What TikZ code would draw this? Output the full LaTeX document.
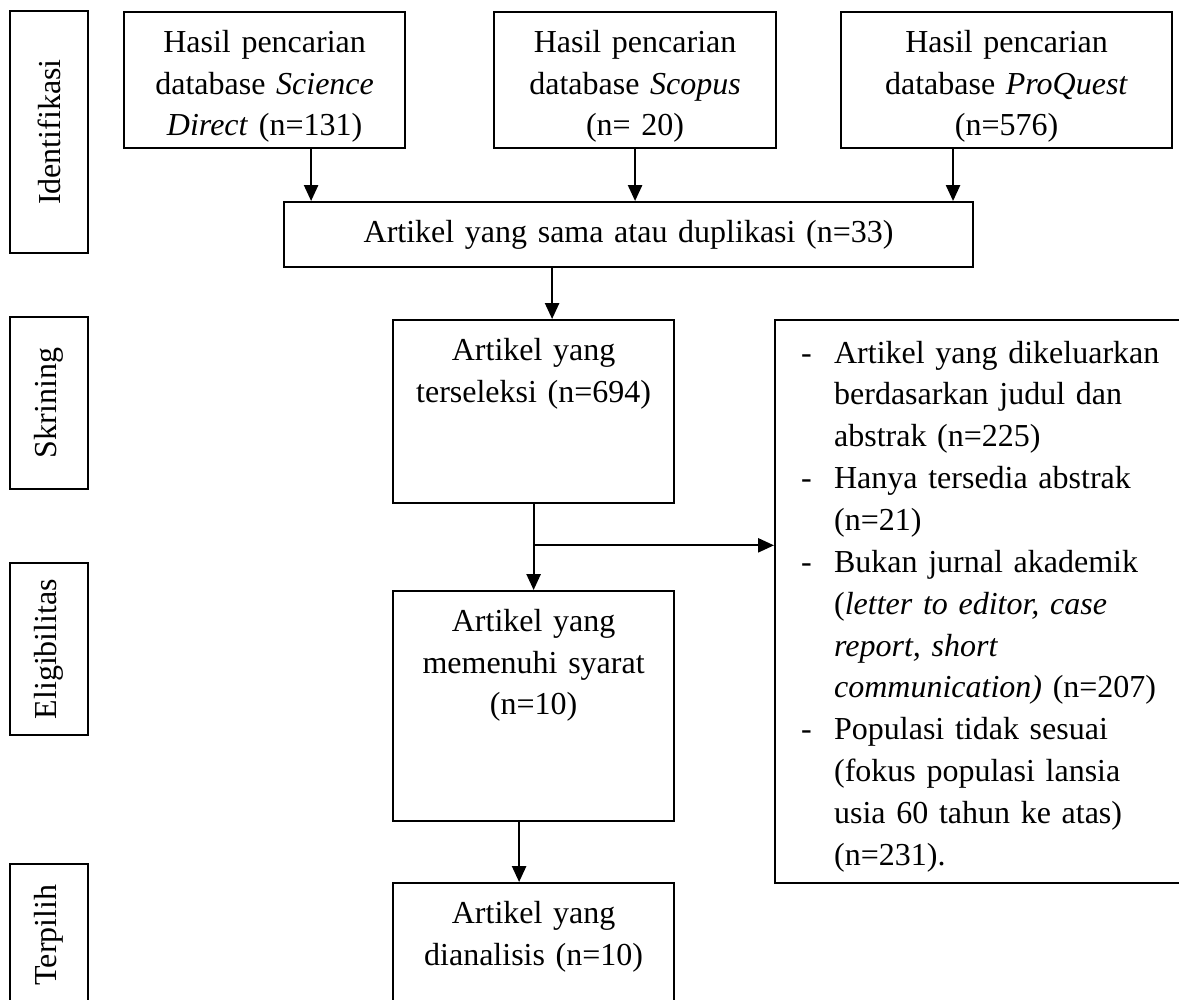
\documentclass[tikz,border=0pt]{standalone}
\usepackage{fontspec}
\setmainfont{Liberation Serif}
\usetikzlibrary{arrows.meta}
\usetikzlibrary{calc}

\newcommand{\exitem}[1]{\noindent\hangindent=12.4pt\hangafter=1\makebox[12.4pt][l]{-}#1\par}

\begin{document}
\begin{tikzpicture}[x=0.375pt,y=-0.375pt]

	\tikzset{box/.style = {draw,line width=0.8pt,anchor=north west,inner xsep=0pt,inner ysep=6.2pt,text height=9pt,align=center,font=\fontsize{12}{15.6}\selectfont}}
	\tikzset{side/.style = {draw,line width=0.8pt,rotate=90,minimum height=29.25pt,inner sep=0pt,font=\fontsize{12}{15.6}\selectfont}}
	\tikzset{edge/.style = {->,> = {Triangle[length=6pt,width=5.3pt]},line width=0.8pt}}
	\useasboundingbox (0,0) rectangle (1179,999);
	% stages
	\node[side,minimum width=90.75pt] (sIdent) at (49,132) {Identifikasi};
	\node[side,minimum width=64.5pt] (sSkrin) at (49,403) {Skrining};
	\node[side,minimum width=64.5pt] (sElig) at (49,649) {Eligibilitas};
	\node[side,minimum width=53.25pt] (sTerp) at (49,935) {Terpilih};
	% boxes
	\node[box,text width=105.4pt,text depth=29.6pt] (sd) at (123,11) {Hasil pencarian\\ database \textit{Science}\\ \textit{Direct} (n=131)};
	\node[box,text width=105.75pt,text depth=29.6pt] (sc) at (493,11) {Hasil pencarian\\ database \textit{Scopus}\\ (n= 20)};
	\node[box,text width=124.1pt,text depth=29.6pt] (pq) at (840,11) {Hasil pencarian\\ database \textit{ProQuest}\\ (n=576)};
	\node[box,text width=258.4pt,text depth=3pt] (dup) at (283,201) {Artikel yang sama atau duplikasi (n=33)};
	\node[box,text width=105.4pt,text depth=47.2pt] (sel) at (392,319) {Artikel yang\\ terseleksi (n=694)};
	\node[box,text width=105.4pt,text depth=64.85pt] (elig) at (392,590) {Artikel yang\\ memenuhi syarat\\ (n=10)};
	\node[box,text width=105.4pt,text depth=26.6pt] (ana) at (392,882) {Artikel yang\\ dianalisis (n=10)};
	\node[box,align=left,text width=138pt,inner xsep=9.75pt,inner ysep=7.1pt,text depth=188pt,font=\fontsize{12}{15.7}\selectfont] (exc) at (774,319) {%
		\exitem{Artikel yang dikeluarkan\newline berdasarkan judul dan\newline abstrak (n=225)}%
		\exitem{Hanya tersedia abstrak\newline (n=21)}%
		\exitem{Bukan jurnal akademik\newline (\textit{letter to editor, case}\newline \textit{report, short}\newline \textit{communication)} (n=207)}%
		\exitem{Populasi tidak sesuai\newline (fokus populasi lansia\newline usia 60 tahun ke atas)\newline (n=231).}};
	% edges
	\coordinate (a1) at ($(sd.south)+(46.5,0)$);
	\coordinate (a3) at ($(pq.south)+(-53.5,0)$);
	\coordinate (a4) at ($(sel.north)+(18.5,0)$);
	\coordinate (a5) at ($(elig.south)+(-14.5,0)$);
	\coordinate (br) at ($(sel.south)!0.48!(elig.north)$);
	\draw[edge] (a1) to (a1 |- dup.north);
	\draw[edge] (sc.south) to (sc.south |- dup.north);
	\draw[edge] (a3) to (a3 |- dup.north);
	\draw[edge] (a4 |- dup.south) to (a4);
	\draw[edge] (sel.south) to (elig.north);
	\draw[edge] (br) to (br -| exc.west);
	\draw[edge] (a5) to (a5 |- ana.north);
\end{tikzpicture}
\end{document}
